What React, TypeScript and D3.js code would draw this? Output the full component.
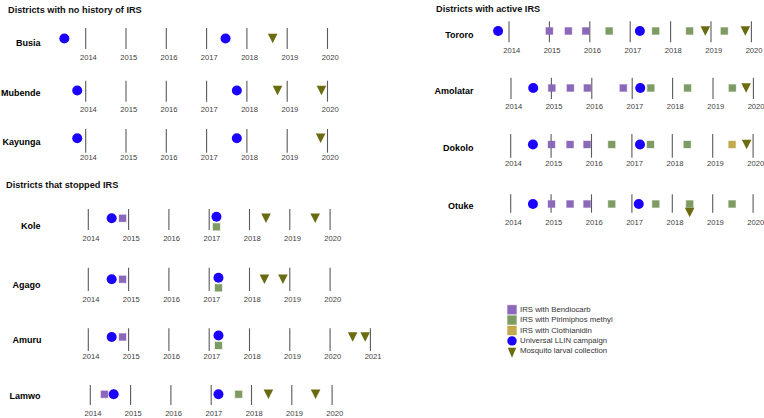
import React from "react";
import * as d3 from "d3";

// ---------- DATA ----------
const yearTicks = [2014, 2015, 2016, 2017, 2018, 2019, 2020];
const amuruTicks = [2014, 2015, 2016, 2017, 2018, 2019, 2020, 2021];

const groupTitles = ["Districts with no history of IRS", "Districts that stopped IRS", "Districts with active IRS"];

const noHistoryDistricts = ["Busia", "Mubende", "Kayunga"];
const stoppedDistricts = ["Kole", "Agago", "Amuru", "Lamwo"];
const activeDistricts = ["Tororo", "Amolatar", "Dokolo", "Otuke"];

// Universal LLIN campaign dates (decimal years)
const llinCampaign: [string, number][] = [
  ["Busia", 2013.47], ["Busia", 2017.47],
  ["Mubende", 2013.79], ["Mubende", 2017.75],
  ["Kayunga", 2013.79], ["Kayunga", 2017.75],
  ["Tororo", 2013.73], ["Tororo", 2017.24],
  ["Amolatar", 2014.55], ["Amolatar", 2017.2],
  ["Dokolo", 2014.55], ["Dokolo", 2017.2],
  ["Otuke", 2014.55], ["Otuke", 2017.17],
  ["Kole", 2014.58], ["Kole", 2017.18],
  ["Agago", 2014.58], ["Agago", 2017.23],
  ["Amuru", 2014.58], ["Amuru", 2017.23],
  ["Lamwo", 2014.58], ["Lamwo", 2017.18],
];

const irsBendiocarb: [string, number][] = [
  ["Tororo", 2015.0], ["Tororo", 2015.47], ["Tororo", 2015.9],
  ["Amolatar", 2015.01], ["Amolatar", 2015.47], ["Amolatar", 2015.89], ["Amolatar", 2016.78],
  ["Dokolo", 2015.01], ["Dokolo", 2015.47], ["Dokolo", 2015.89],
  ["Otuke", 2015.01], ["Otuke", 2015.47], ["Otuke", 2015.89],
  ["Kole", 2014.85], ["Agago", 2014.85], ["Amuru", 2014.85], ["Lamwo", 2014.35],
];

const irsPirimiphos: [string, number][] = [
  ["Tororo", 2016.48], ["Tororo", 2017.63], ["Tororo", 2018.47], ["Tororo", 2019.33],
  ["Amolatar", 2017.46], ["Amolatar", 2018.37], ["Amolatar", 2019.48],
  ["Dokolo", 2016.5], ["Dokolo", 2017.46], ["Dokolo", 2018.37],
  ["Otuke", 2016.5], ["Otuke", 2017.59], ["Otuke", 2018.43], ["Otuke", 2019.48],
  ["Kole", 2017.18], ["Agago", 2017.23], ["Amuru", 2017.23], ["Lamwo", 2017.68],
];

const irsClothianidin: [string, number][] = [["Dokolo", 2019.48]];

const larvalCollection: [string, number][] = [
  ["Busia", 2018.64],
  ["Mubende", 2018.76], ["Mubende", 2019.85],
  ["Kayunga", 2019.83],
  ["Tororo", 2018.86], ["Tororo", 2019.85],
  ["Amolatar", 2019.82],
  ["Dokolo", 2019.84],
  ["Otuke", 2018.43],
  ["Kole", 2018.41], ["Kole", 2019.63],
  ["Agago", 2018.37], ["Agago", 2018.83],
  ["Amuru", 2020.56], ["Amuru", 2020.87],
  ["Lamwo", 2018.42], ["Lamwo", 2019.59],
];

const legendLabels = [
  "IRS with Bendiocarb",
  "IRS with Pirimiphos methyl",
  "IRS with Clothianidin",
  "Universal LLIN campaign",
  "Mosquito larval collection",
];

// ---------- STYLE / LAYOUT ----------
const COLORS = {
  bendiocarb: "#8b68b9",
  pirimiphos: "#7f9b64",
  clothianidin: "#c2aa4e",
  llin: "#1c00ff",
  larval: "#6b6b12",
  axis: "#5a5a5a",
  tickText: "#404040",
};

type RowLayout = {
  x2014: number; step: number; lineTop: number; lineBottom: number;
  eventY: number; labelY: number; nameY: number; nameRight: number;
};

const rowLayouts: Record<string, RowLayout> = {
  Busia: { x2014: 85.7, step: 40.3, lineTop: 28, lineBottom: 49, eventY: 38.5, labelY: 57.7, nameY: 44, nameRight: 40.5 },
  Mubende: { x2014: 85.7, step: 40.3, lineTop: 80.7, lineBottom: 101.7, eventY: 90.5, labelY: 109.7, nameY: 93.7, nameRight: 40.5 },
  Kayunga: { x2014: 85.7, step: 40.3, lineTop: 129, lineBottom: 152.7, eventY: 138.3, labelY: 158.3, nameY: 143, nameRight: 40.5 },
  Kole: { x2014: 88.3, step: 40.3, lineTop: 209, lineBottom: 230, eventY: 218.3, labelY: 239, nameY: 226.7, nameRight: 40.5 },
  Agago: { x2014: 88.3, step: 40.3, lineTop: 267.7, lineBottom: 291, eventY: 279.3, labelY: 299.5, nameY: 285.7, nameRight: 40.5 },
  Amuru: { x2014: 88.3, step: 40.3, lineTop: 328.3, lineBottom: 351, eventY: 337, labelY: 357.3, nameY: 340.7, nameRight: 41.5 },
  Lamwo: { x2014: 90.3, step: 40.3, lineTop: 385, lineBottom: 405, eventY: 394.3, labelY: 414, nameY: 396.7, nameRight: 40.5 },
  Tororo: { x2014: 509, step: 40.4, lineTop: 21.3, lineBottom: 42.3, eventY: 31, labelY: 50.7, nameY: 35.3, nameRight: 473.5 },
  Amolatar: { x2014: 511, step: 40.4, lineTop: 77.7, lineBottom: 99, eventY: 88, labelY: 107.3, nameY: 91.3, nameRight: 473.5 },
  Dokolo: { x2014: 510.7, step: 40.4, lineTop: 134, lineBottom: 157.7, eventY: 144.5, labelY: 163.5, nameY: 148.3, nameRight: 473.5 },
  Otuke: { x2014: 510.7, step: 40.4, lineTop: 194.3, lineBottom: 212.7, eventY: 204, labelY: 223.3, nameY: 206.7, nameRight: 473.5 },
};

const titlePositions = [
  { x: 8, y: 12.5 },
  { x: 6, y: 188 },
  { x: 436, y: 12 },
];

const FONT = "'Liberation Sans', Arial, sans-serif";

type Kind = "llin" | "bendiocarb" | "pirimiphos" | "clothianidin" | "larval";

function Marker({ kind, cx, cy, legend = false }: { kind: Kind; cx: number; cy: number; legend?: boolean }) {
  if (kind === "llin") {
    const r = legend ? 4.7 : 5;
    return <circle cx={cx} cy={cy} r={r} fill={COLORS.llin} />;
  }
  if (kind === "larval") {
    const w = legend ? 8.5 : 9.6;
    const h = legend ? 10 : 9.6;
    const top = cy - h / 2;
    const p = d3.path();
    p.moveTo(cx - w / 2, top);
    p.lineTo(cx + w / 2, top);
    p.lineTo(cx, top + h);
    p.closePath();
    return <path d={p.toString()} fill={COLORS.larval} />;
  }
  const s = legend ? 9 : 7;
  return (
    <rect
      x={cx - s / 2}
      y={cy - s / 2}
      width={s}
      height={s}
      fill={COLORS[kind]}
      stroke={COLORS[kind]}
      strokeOpacity={0.35}
      strokeWidth={1}
    />
  );
}

function DistrictRow({ name }: { name: string }) {
  const L = rowLayouts[name];
  const ticks = name === "Amuru" ? amuruTicks : yearTicks;
  const x = d3.scaleLinear().domain([2014, 2015]).range([L.x2014, L.x2014 + L.step]);

  const events: { kind: Kind; t: number }[] = [];
  const add = (arr: [string, number][], kind: Kind) =>
    arr.filter((d) => d[0] === name).forEach((d) => events.push({ kind, t: d[1] }));
  add(llinCampaign, "llin");
  add(irsBendiocarb, "bendiocarb");
  add(irsPirimiphos, "pirimiphos");
  add(irsClothianidin, "clothianidin");
  add(larvalCollection, "larval");

  // stack coincident events vertically
  const placed = events.map((e, i) => {
    const before = events.slice(0, i).some((o) => Math.abs(o.t - e.t) < 0.08);
    const after = events.slice(i + 1).some((o) => Math.abs(o.t - e.t) < 0.08);
    let dy = 0;
    if (before) dy = 8.5;
    else if (after) dy = e.kind === "llin" ? -1.5 : 0;
    return { ...e, y: L.eventY + dy };
  });

  return (
    <g>
      <text
        x={L.nameRight}
        y={L.nameY}
        textAnchor="end"
        dominantBaseline="middle"
        fontFamily={FONT}
        fontWeight="bold"
        fontSize={9}
        fill="#000"
      >
        {name}
      </text>
      {ticks.map((yr) => (
        <g key={yr}>
          <line x1={x(yr)} x2={x(yr)} y1={L.lineTop} y2={L.lineBottom} stroke={COLORS.axis} strokeWidth={1.1} />
          <text
            x={x(yr) + 2.7}
            y={L.labelY}
            textAnchor="middle"
            dominantBaseline="middle"
            fontFamily={FONT}
            fontSize={7.6}
            fill={COLORS.tickText}
          >
            {yr}
          </text>
        </g>
      ))}
      {placed.map((e, i) => (
        <Marker key={i} kind={e.kind} cx={x(e.t)} cy={e.y} />
      ))}
    </g>
  );
}

function Legend() {
  const kinds: Kind[] = ["bendiocarb", "pirimiphos", "clothianidin", "llin", "larval"];
  const y = d3.scaleLinear().domain([0, 1]).range([309.7, 320.1]);
  return (
    <g>
      {kinds.map((k, i) => (
        <g key={k}>
          <Marker kind={k} cx={512} cy={y(i) + (k === "larval" ? 1.5 : 0)} legend />
          <text
            x={520}
            y={y(i)}
            dominantBaseline="middle"
            fontFamily={FONT}
            fontSize={7.8}
            fill="#333"
          >
            {legendLabels[i]}
          </text>
        </g>
      ))}
    </g>
  );
}

export default function App() {
  const allDistricts = [...noHistoryDistricts, ...stoppedDistricts, ...activeDistricts];
  return (
    <svg
      width={764}
      height={418}
      style={{ position: "absolute", left: 0, top: 0, background: "#fff" }}
    >
      <rect width={764} height={418} fill="#fff" />
      {groupTitles.map((t, i) => (
        <text
          key={t}
          x={titlePositions[i].x}
          y={titlePositions[i].y}
          fontFamily={FONT}
          fontWeight="bold"
          fontSize={9.2}
          fill="#111"
        >
          {t}
        </text>
      ))}
      {allDistricts.map((d) => (
        <DistrictRow key={d} name={d} />
      ))}
      <Legend />
    </svg>
  );
}
